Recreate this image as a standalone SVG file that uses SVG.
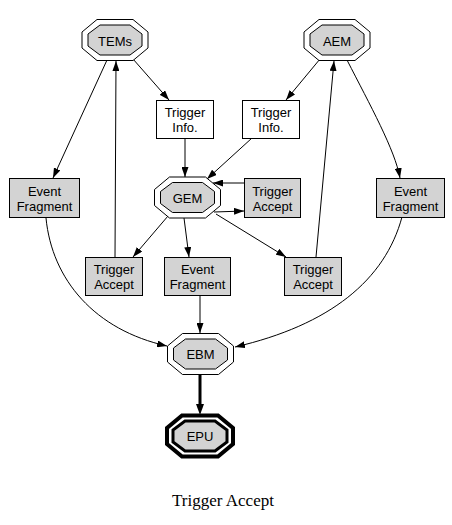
<svg xmlns="http://www.w3.org/2000/svg" width="452" height="525" viewBox="0 0 452 525">
<style>
.bg{fill:#ffffff}
.oo{fill:#ffffff;stroke:#000;stroke-width:1}
.oi{fill:#d3d3d3;stroke:#000;stroke-width:1}
.bo{fill:#ffffff;stroke:#000;stroke-width:4}
.bi{fill:#d3d3d3;stroke:#000;stroke-width:3}
.box{fill:#ffffff;stroke:#000;stroke-width:1}
.gbox{fill:#d3d3d3;stroke:#000;stroke-width:1}
.lbl{font-family:"Liberation Sans",Arial,sans-serif;font-size:13px;fill:#000;text-anchor:middle}
.title{font-family:"Liberation Serif","Times New Roman",serif;font-size:17px;fill:#000;text-anchor:middle}
.e{fill:none;stroke:#000;stroke-width:1;marker-end:url(#ah)}
.eb{fill:none;stroke:#000;stroke-width:3;marker-end:url(#ahb)}
</style>
<defs>
<marker id="ah" markerUnits="userSpaceOnUse" markerWidth="10" markerHeight="7" refX="10" refY="3.5" orient="auto">
<path d="M0,0 L10,3.5 L0,7 z" fill="#000"/>
</marker>
<marker id="ahb" markerUnits="userSpaceOnUse" markerWidth="11" markerHeight="8" refX="0" refY="4" orient="auto">
<path d="M0,0 L11,4 L0,8 z" fill="#000"/>
</marker>
<polygon id="octO" points="-18,-20.5 18,-20.5 33,-8 33,8 18,20.5 -18,20.5 -33,8 -33,-8"/>
<polygon id="octI" points="-15,-15 15,-15 27,-6 27,6 15,15 -15,15 -27,6 -27,-6"/>
</defs>
<rect class="bg" x="0" y="0" width="452" height="525"/>

<g id="edges">
<path class="e" d="M133,59 L169,100"/>
<path class="e" d="M107,60 L53,178"/>
<path class="e" d="M115,257 L116,61"/>
<path class="e" d="M320,59 L286,100"/>
<path class="e" d="M316,257 L334,61"/>
<path class="e" d="M347,60 C370,105 395,150 400,178"/>
<path class="e" d="M185,138 L185,177"/>
<path class="e" d="M252,138 L207,179"/>
<path class="e" d="M244,183 L213,183"/>
<path class="e" d="M214,212 L244,211"/>
<path class="e" d="M168,216 L133,257"/>
<path class="e" d="M184,218 L189,257"/>
<path class="e" d="M216,214 L286,257"/>
<path class="e" d="M200,295 L200,333"/>
<path class="e" d="M46,218 C52,280 95,330 167,346"/>
<path class="e" d="M402,217 C385,280 330,325 235,347"/>
<path class="eb" d="M200,375 L200,404"/>
</g>

<g id="TEMs">
<use href="#octO" class="oo" x="115" y="40"/>
<use href="#octI" class="oi" x="115" y="40"/>
<text class="lbl" x="115" y="45.5">TEMs</text>
</g>
<g id="AEM">
<use href="#octO" class="oo" x="337" y="40"/>
<use href="#octI" class="oi" x="337" y="40"/>
<text class="lbl" x="337" y="45.5">AEM</text>
</g>
<g id="TrigInfoL">
<rect class="box" x="156.5" y="100.5" width="57" height="38"/>
<text class="lbl" x="185" y="117">Trigger</text>
<text class="lbl" x="185" y="132">Info.</text>
</g>
<g id="TrigInfoR">
<rect class="box" x="242.5" y="100.5" width="57" height="38"/>
<text class="lbl" x="271" y="117">Trigger</text>
<text class="lbl" x="271" y="132">Info.</text>
</g>
<g id="EvFragL">
<rect class="gbox" x="9.5" y="178.5" width="70" height="39"/>
<text class="lbl" x="44.5" y="195.5">Event</text>
<text class="lbl" x="44.5" y="210.5">Fragment</text>
</g>
<g id="GEM">
<use href="#octO" class="oo" x="187.5" y="197.5"/>
<use href="#octI" class="oi" x="187.5" y="197.5"/>
<text class="lbl" x="187.5" y="202.5">GEM</text>
</g>
<g id="TrigAccGEM">
<rect class="gbox" x="244.5" y="178.5" width="56" height="39"/>
<text class="lbl" x="272.5" y="195.5">Trigger</text>
<text class="lbl" x="272.5" y="210.5">Accept</text>
</g>
<g id="EvFragR">
<rect class="gbox" x="376.5" y="178.5" width="68" height="39"/>
<text class="lbl" x="410.5" y="195.5">Event</text>
<text class="lbl" x="410.5" y="210.5">Fragment</text>
</g>
<g id="TrigAccL">
<rect class="gbox" x="85.5" y="257.5" width="57" height="38"/>
<text class="lbl" x="114" y="274">Trigger</text>
<text class="lbl" x="114" y="289">Accept</text>
</g>
<g id="EvFragM">
<rect class="gbox" x="164.5" y="257.5" width="66" height="38"/>
<text class="lbl" x="197.5" y="274">Event</text>
<text class="lbl" x="197.5" y="289">Fragment</text>
</g>
<g id="TrigAccR">
<rect class="gbox" x="284.5" y="257.5" width="57" height="38"/>
<text class="lbl" x="313" y="274">Trigger</text>
<text class="lbl" x="313" y="289">Accept</text>
</g>
<g id="EBM">
<use href="#octO" class="oo" x="200.5" y="354"/>
<use href="#octI" class="oi" x="200.5" y="354"/>
<text class="lbl" x="200.5" y="359">EBM</text>
</g>
<g id="EPU">
<use href="#octO" class="bo" x="200" y="436"/>
<use href="#octI" class="bi" x="200" y="436"/>
<text class="lbl" x="200" y="441">EPU</text>
</g>
<text class="title" x="223" y="506">Trigger Accept</text>
</svg>
